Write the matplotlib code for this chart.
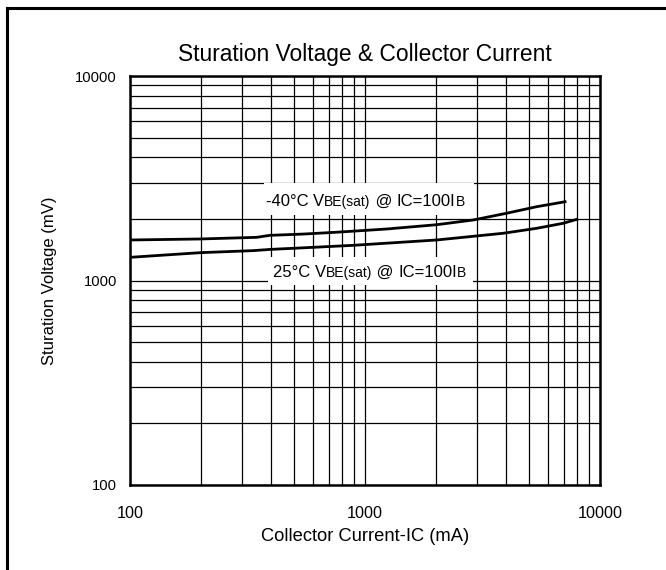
import matplotlib
matplotlib.use("Agg")
import matplotlib.pyplot as plt
from matplotlib.patches import Rectangle
from matplotlib.ticker import LogLocator, NullFormatter, FixedLocator, FixedFormatter

plt.rcParams['font.family'] = ['Liberation Sans', 'DejaVu Sans']

# ---- data ----
ic_m40 = [100, 199, 346, 394, 547, 757, 1237, 2018, 2891, 4008, 5380, 7100]
v_m40 = [1578, 1596, 1626, 1663, 1687, 1722, 1786, 1874, 1977, 2133, 2296, 2427]

ic_25 = [100, 199, 335, 394, 547, 892, 2018, 3876, 5380, 6980, 7960]
v_25 = [1298, 1368, 1400, 1419, 1445, 1486, 1578, 1702, 1800, 1905, 1990]

x_ticks = [100, 1000, 10000]
x_tick_labels = ["100", "1000", "10000"]
y_ticks = [100, 1000, 10000]
y_tick_labels = ["100", "1000", "10000"]

title = "Sturation Voltage & Collector Current"
xlabel = "Collector Current-IC (mA)"
ylabel = "Sturation Voltage (mV)"

label_m40 = [("-40°C ", 12), ("V", 12), ("BE(sat)", 10), (" @ ", 12), ("IC=100I", 12), ("B", 10)]
label_25 = [("25°C ", 12), ("V", 12), ("BE(sat)", 10), (" @ ", 12), ("IC=100I", 12), ("B", 10)]

# ---- figure ----
fig = plt.figure(figsize=(6.66, 5.70), dpi=100)
W, H = 666, 570
L, R, T, B = 130, 600, 76, 485
ax = fig.add_axes([L / W, 1 - B / H, (R - L) / W, (B - T) / H])

ax.set_xscale('log')
ax.set_yscale('log')
ax.set_xlim(100, 10000)
ax.set_ylim(100, 10000)

ax.xaxis.set_major_locator(FixedLocator(x_ticks))
ax.xaxis.set_major_formatter(FixedFormatter(x_tick_labels))
ax.yaxis.set_major_locator(FixedLocator(y_ticks))
ax.yaxis.set_major_formatter(FixedFormatter(y_tick_labels))
ax.xaxis.set_minor_locator(LogLocator(base=10, subs=range(2, 10)))
ax.yaxis.set_minor_locator(LogLocator(base=10, subs=range(2, 10)))
ax.xaxis.set_minor_formatter(NullFormatter())
ax.yaxis.set_minor_formatter(NullFormatter())

ax.grid(True, which='both', color='black', linewidth=0.9, zorder=1)
ax.set_axisbelow(True)
ax.tick_params(which='both', length=0, colors='black')
ax.tick_params(axis='x', pad=15, labelsize=11.7)
ax.tick_params(axis='y', pad=9.5, labelsize=10.6)
for s in ax.spines.values():
    s.set_linewidth(1.8)
    s.set_color('black')
    s.set_zorder(6)

ax.plot(ic_m40, v_m40, color='black', linewidth=2.0, zorder=5)
ax.plot(ic_25, v_25, color='black', linewidth=2.0, zorder=5)

def ax_frac(px, py):
    return ((px - L) / (R - L), (B - py) / (B - T))

def white_box(x0, y0, x1, y1):
    fx0, fy1 = ax_frac(x0, y0)
    fx1, fy0 = ax_frac(x1, y1)
    ax.add_patch(Rectangle((fx0, fy0), fx1 - fx0, fy1 - fy0, transform=ax.transAxes,
                           facecolor='white', edgecolor='none', zorder=3))

def chain_label(pieces, px, py):
    fx, fy = ax_frac(px, py)
    prev = None
    for txt, size in pieces:
        if prev is None:
            prev = ax.text(fx, fy, txt, transform=ax.transAxes, fontsize=size,
                           ha='left', va='baseline', zorder=4)
        else:
            prev = ax.annotate(txt, xy=(1, 0), xycoords=prev, fontsize=size,
                               ha='left', va='bottom', zorder=4)

white_box(264, 183, 474, 215)
white_box(268, 257, 473, 285)
chain_label(label_m40, 266, 206)
chain_label(label_25, 273, 277)

ax.set_title(title, fontsize=16.4, pad=11)
ax.set_xlabel(xlabel, fontsize=13.2, labelpad=5.5)
ax.set_ylabel(ylabel, fontsize=12, labelpad=13)

# outer border (left and top only visible)
fig.add_artist(plt.Line2D([6.5 / W, 6.5 / W], [0, 1 - 8 / H], transform=fig.transFigure,
                          color='black', linewidth=2.2))
fig.add_artist(plt.Line2D([6.5 / W, 1], [1 - 8 / H, 1 - 8 / H], transform=fig.transFigure,
                          color='black', linewidth=2.2))

fig.savefig("out.png", dpi=100)
